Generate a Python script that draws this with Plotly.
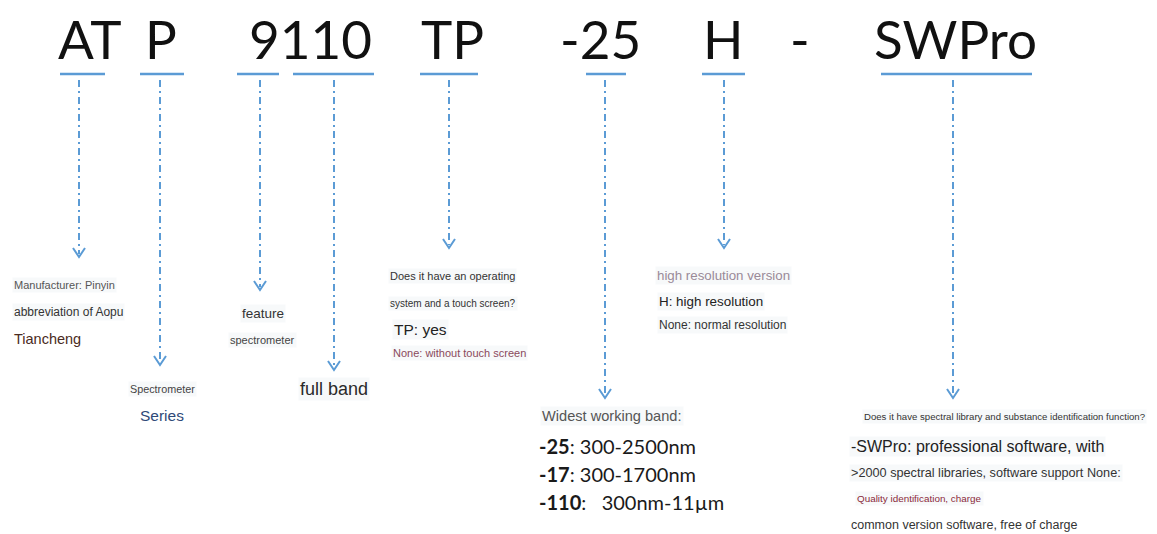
import plotly.graph_objects as go

W, H = 1157, 534

# ---- content ----
codes = ["AT", "P", "9110", "TP", "-25", "H", "-", "SWPro"]
code_cx = [89, 161, 310, 452, 600, 723, 800, 955]

parts = ["AT", "P", "9", "110", "TP", "-25", "H", "SWPro"]
ul_x0 = [60, 140, 237, 293, 420, 586, 702, 881]
ul_x1 = [105, 184, 279, 374, 478, 626, 745, 1032]
stem_x = [79, 160, 260, 334, 449, 605, 724, 953]
tip_y = [257, 365, 290, 370, 248, 398, 248, 398]

# annotations: text, x, y, size, color, background
notes = [
    ("Manufacturer: Pinyin", 12, 285, 11, "#555555", True),
    ("abbreviation of Aopu", 12, 312, 12, "#333333", True),
    ("Tiancheng", 12, 339, 14.5, "#4a2b22", False),
    ("Spectrometer", 128, 389, 10.8, "#444444", True),
    ("Series", 138, 415, 15.5, "#2f4a78", False),
    ("feature", 240, 313, 13.5, "#333333", True),
    ("spectrometer", 228, 340, 11, "#444444", True),
    ("full band", 298, 389, 18, "#2a2a2a", True),
    ("Does it have an operating", 388, 276, 11, "#333333", True),
    ("system and a touch screen?", 388, 303, 10, "#333333", True),
    ("TP: yes", 392, 329, 15.5, "#222222", True),
    ("None: without touch screen", 391, 353, 11, "#8a4a5c", True),
    ("high resolution version", 655, 275, 13.3, "#9a8a98", True),
    ("H: high resolution", 657, 301, 13.4, "#222222", True),
    ("None: normal resolution", 657, 325, 12, "#333333", True),
    ("Widest working band:", 540, 416, 14.6, "#555555", True),
    ("Does it have spectral library and substance identification function?", 862, 416, 9.6, "#333333", True),
    ("-SWPro: professional software, with", 849, 446, 16, "#222222", True),
    (">2000 spectral libraries, software support None:", 849, 473, 12.7, "#333333", True),
    ("Quality identification, charge", 855, 498, 9.9, "#8b2a3a", True),
    ("common version software, free of charge", 849, 525, 12.5, "#333333", False),
]

band_codes = ["-25", "-17", "-110"]
band_ranges = [": 300-2500nm", ": 300-1700nm", ":&nbsp;&nbsp;&nbsp;300nm-11µm"]
band_y = [446, 474, 502]

BLUE = "#5b9bd5"

fig = go.Figure()

# underlines
for x0, x1 in zip(ul_x0, ul_x1):
    fig.add_trace(go.Scatter(x=[x0, x1], y=[74, 74], mode="lines",
                             line=dict(color=BLUE, width=2.5), hoverinfo="skip"))

# dash-dot stems and chevron arrows
for sx, ty in zip(stem_x, tip_y):
    fig.add_trace(go.Scatter(x=[sx, sx], y=[80, ty - 3], mode="lines",
                             line=dict(color=BLUE, width=2, dash="7px,4px,2px,4px"),
                             hoverinfo="skip"))
    fig.add_trace(go.Scatter(x=[sx - 6, sx, sx + 6], y=[ty - 9, ty, ty - 9], mode="lines",
                             line=dict(color=BLUE, width=2), hoverinfo="skip"))

annotations = []
for c, cx in zip(codes, code_cx):
    annotations.append(dict(x=cx, y=38, text=c, showarrow=False, xanchor="center",
                            yanchor="middle", font=dict(family="Lato", size=53, color="#111111")))

for t, x, y, s, col, bg in notes:
    a = dict(x=x, y=y, text=t, showarrow=False, xanchor="left", yanchor="middle",
             font=dict(family="Liberation Sans", size=s, color=col))
    if bg:
        a["bgcolor"] = "rgba(238,241,244,0.45)"
    annotations.append(a)

for bc, br, by in zip(band_codes, band_ranges, band_y):
    annotations.append(dict(x=537, y=by, text=f"<b>{bc}</b>{br}", showarrow=False,
                            xanchor="left", yanchor="middle",
                            font=dict(family="Lato", size=20, color="#1a1a1a")))

fig.update_layout(
    width=W, height=H, margin=dict(l=0, r=0, t=0, b=0),
    paper_bgcolor="white", plot_bgcolor="white", showlegend=False,
    xaxis=dict(range=[0, W], visible=False, fixedrange=True),
    yaxis=dict(range=[H, 0], visible=False, fixedrange=True),
    annotations=annotations,
)

fig.write_html("out.html", config={"displayModeBar": False},
               post_script="document.body.style.margin='0';document.body.style.overflow='hidden';")
